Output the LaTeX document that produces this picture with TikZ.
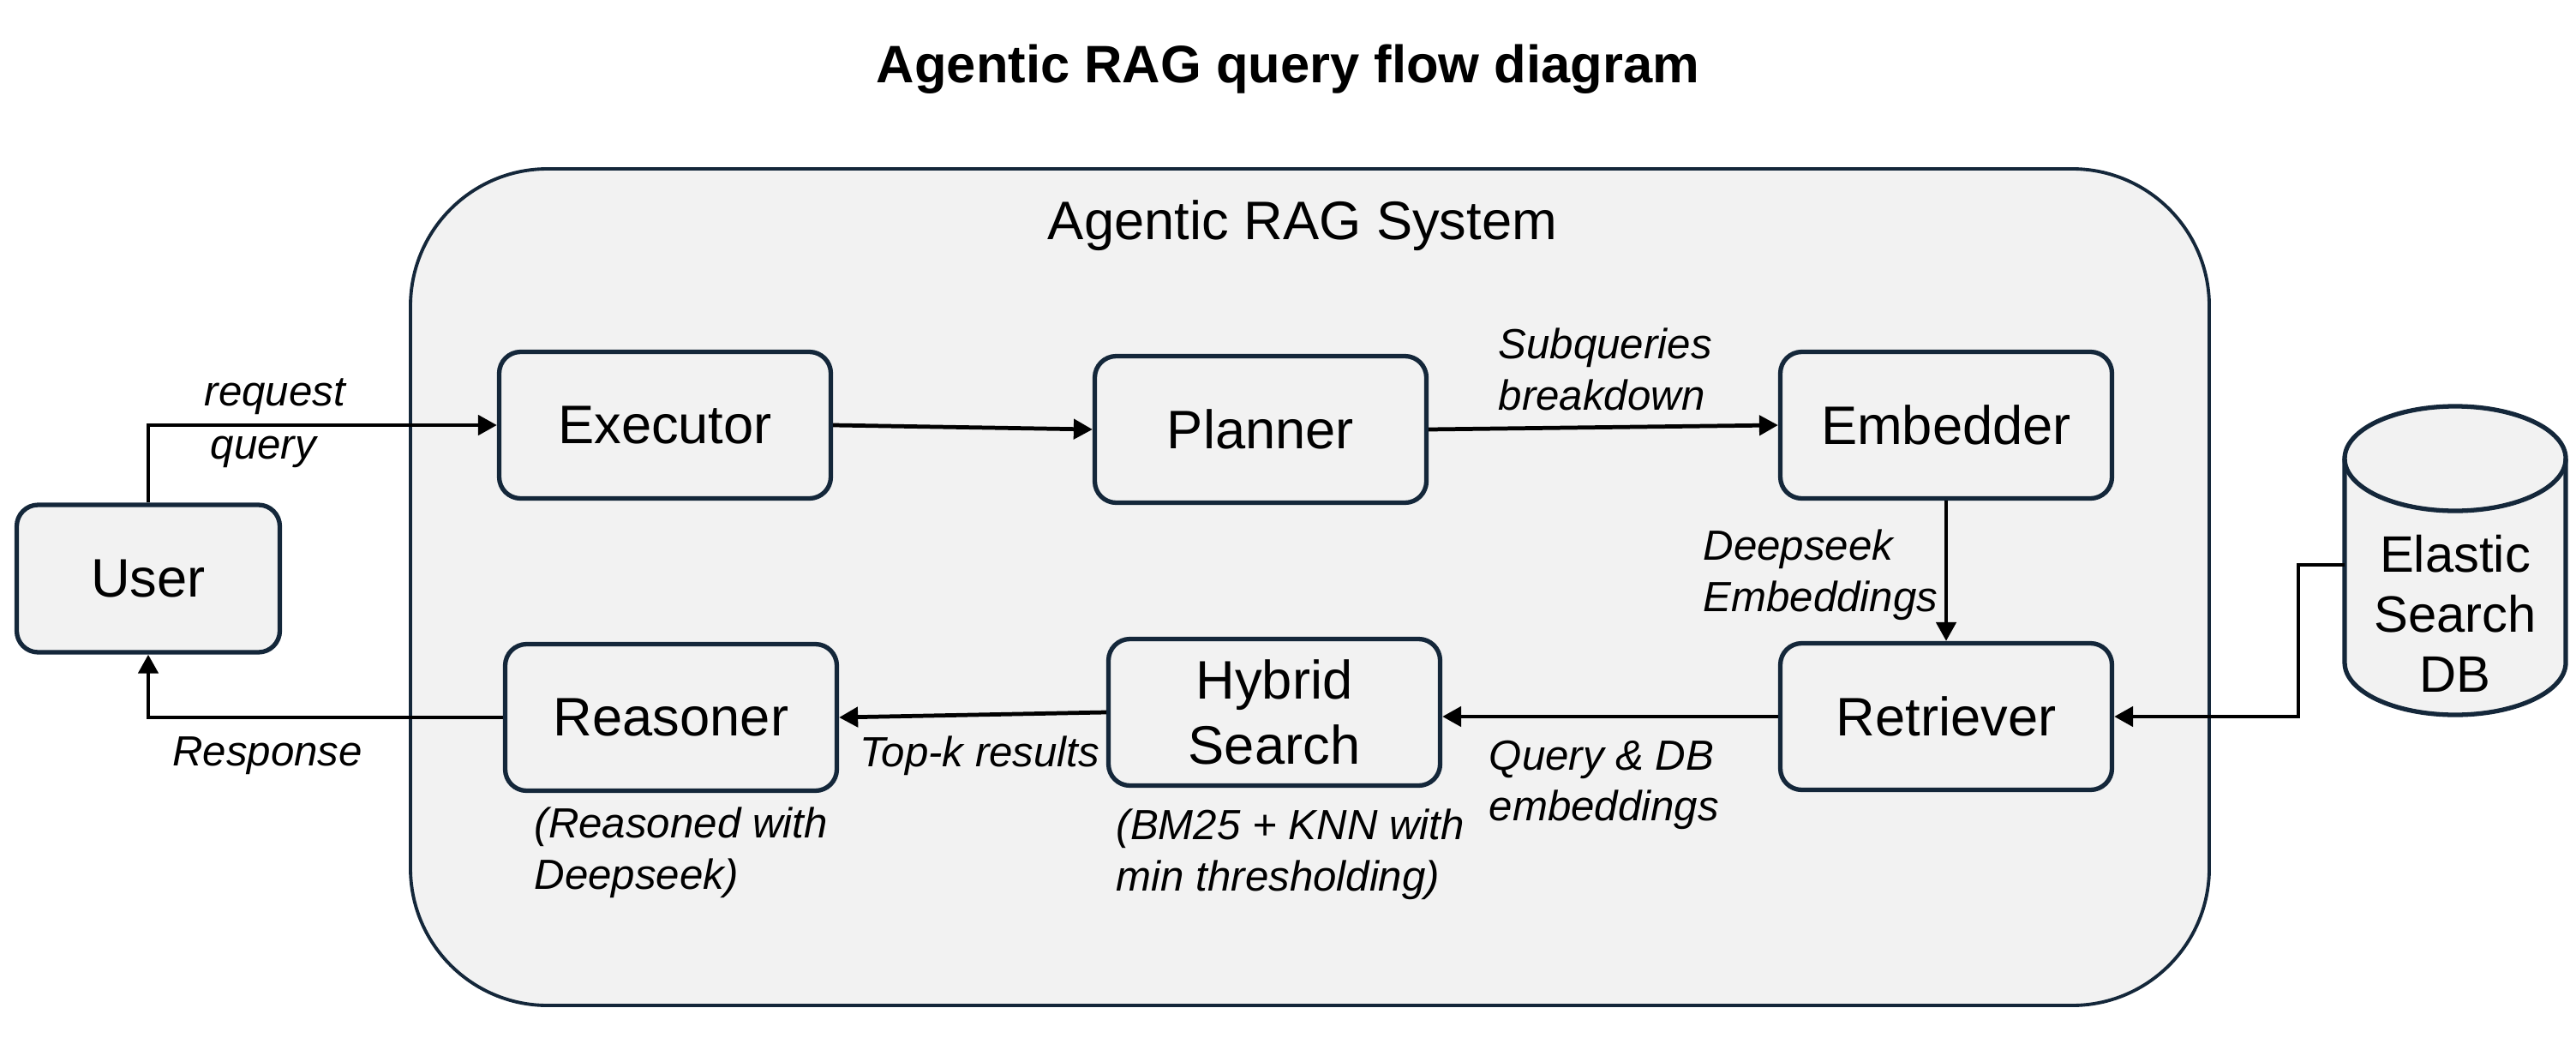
\documentclass[tikz,border=0pt]{standalone}
\usepackage{fontspec}
\setmainfont{Liberation Sans}
\usepackage{tikz}
\usetikzlibrary{positioning, arrows.meta, shapes.geometric}

\definecolor{edgenavy}{HTML}{14273A}
\definecolor{boxgray}{HTML}{F2F2F2}

\begin{document}
\begin{tikzpicture}[
    block/.style={rectangle, rounded corners=0.25cm, draw=edgenavy, fill=boxgray, line width=1.5pt,
                  minimum width=3.87cm, minimum height=1.71cm, align=center,
                  font=\fontsize{18}{21.5}\selectfont},
    lbl/.style={font=\fontsize{14}{17}\selectfont\itshape, align=left, inner sep=0pt},
    arrow/.style={-{Triangle[length=2.2mm, width=2.3mm]}, line width=1.35pt}
]
    \useasboundingbox (0,0) rectangle (30.06,-12.24);

    % Title
    \node[font=\fontsize{17.5}{21}\selectfont\bfseries] (title) at (15.03, -0.81) {Agentic RAG query flow diagram};

    % System frame
    \draw[draw=edgenavy, fill=boxgray, line width=1.1pt, rounded corners=1.6cm] (4.79,-1.97) rectangle (25.78,-11.73);
    \node[font=\fontsize{18}{21}\selectfont] (systitle) at (15.20, -2.63) {Agentic RAG System};

    % Blocks
    \node[block, minimum width=3.07cm, minimum height=1.72cm] (user) at (1.73, -6.75) {User};
    \node[block] (exec) at (7.76, -4.96) {Executor};
    \node[block] (plan) at (14.71, -5.01) {Planner};
    \node[block] (emb) at (22.71, -4.96) {Embedder};
    \node[block] (ret) at (22.71, -8.36) {Retriever};
    \node[block] (hyb) at (14.87, -8.31) {Hybrid\\Search};
    \node[block] (reas) at (7.83, -8.37) {Reasoner};

    % Database (drawn cylinder)
    \draw[draw=edgenavy, fill=boxgray, line width=1.5pt]
        (27.36,-5.35) -- (27.36,-7.73) arc[start angle=180, end angle=360, x radius=1.29, y radius=0.61]
        -- (29.94,-5.35) arc[start angle=0, end angle=180, x radius=1.29, y radius=0.61] -- cycle;
    \draw[draw=edgenavy, line width=1.5pt]
        (27.36,-5.35) arc[start angle=180, end angle=360, x radius=1.29, y radius=0.61];
    \node[align=center, font=\fontsize{17}{20}\selectfont] (db) at (28.65, -7.16) {Elastic\\Search\\DB};
    \coordinate (dbport) at (27.36, -6.59);

    % Flow
    \draw[arrow] (user.north) |- (exec.west);
    \draw[arrow] (exec.east) -- (plan.west);
    \draw[arrow] (plan.east) -- (emb.west);
    \draw[arrow] (emb.south) -- (ret.north);
    \draw[arrow] (dbport) -- ++(-0.54,0) |- (ret.east);
    \draw[arrow] (ret.west) -- (hyb.east |- ret.west);
    \draw[arrow] (hyb.west) -- (reas.east);
    \draw[arrow] (reas.west) -| (user.south);

    % Labels
    \node[lbl, anchor=south west] (lreq) at (2.38, -4.84) {request};
    \node[lbl, anchor=north west] (lqry) at (2.45, -5.08) {query};
    \node[lbl, anchor=west] (lsub) at (17.48, -4.31) {Subqueries\\breakdown};
    \node[lbl, anchor=west] (ldeep) at (19.87, -6.71) {Deepseek\\Embeddings};
    \node[lbl, anchor=west] (lqdb) at (17.37, -9.16) {Query \& DB\\embeddings};
    \node[lbl] (ltop) at (11.43, -8.82) {Top-k results};
    \node[lbl] (lresp) at (3.12, -8.82) {Response};
    \node[lbl, anchor=west] (lreas) at (6.23, -9.95) {(Reasoned with\\Deepseek)};
    \node[lbl, anchor=west] (lbm) at (13.02, -9.97) {(BM25 + KNN with\\min thresholding)};

\end{tikzpicture}
\end{document}
